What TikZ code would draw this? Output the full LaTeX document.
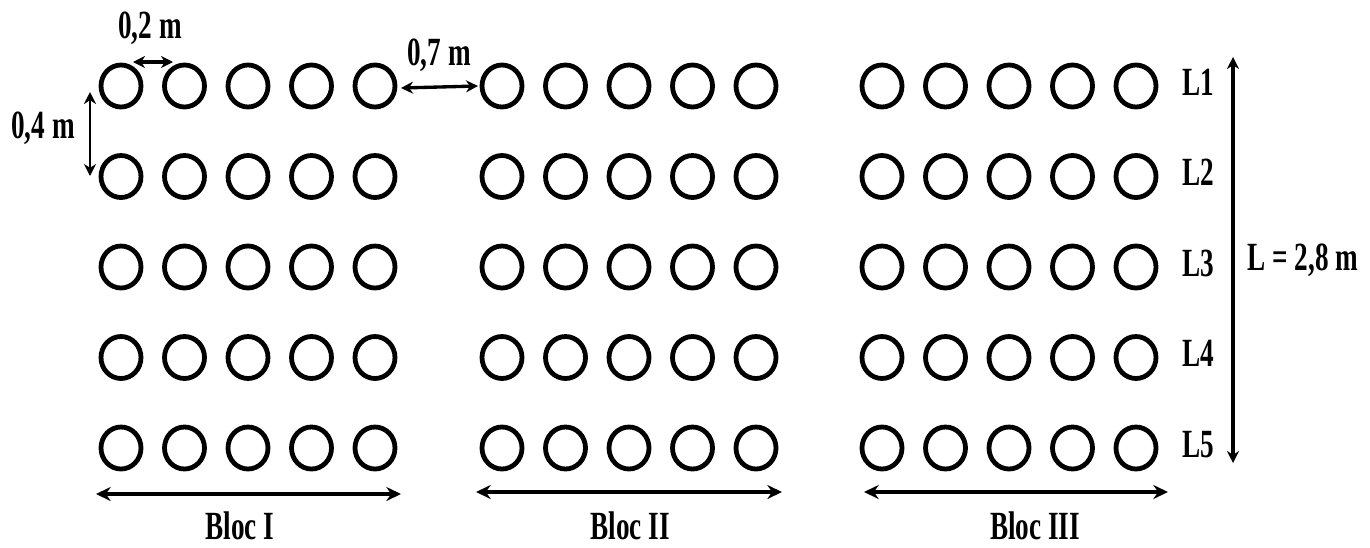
\documentclass[tikz,border=0pt]{standalone}
\usepackage{fontspec}
\setmainfont{Liberation Serif}[FakeStretch=0.68]
\usetikzlibrary{shapes.geometric,arrows.meta}
\begin{document}
\begin{tikzpicture}[x=0.75pt,y=-0.75pt,
  hole/.style={draw,ellipse,line width=3.6pt,minimum width=30pt,minimum height=31.5pt,inner sep=0pt},
  lbl/.style={font=\bfseries\fontsize{30}{34}\selectfont,inner sep=0pt},
  dim/.style={line width=2.5pt,{Stealth[length=9pt,width=9pt]}-{Stealth[length=9pt,width=9pt]}},
  bigdim/.style={line width=3.2pt,{Stealth[length=11pt,width=10.5pt]}-{Stealth[length=11pt,width=10.5pt]}}]
\useasboundingbox (0,0) rectangle (1370,547);
% holes
\foreach \b/\s in {1/121,2/502,3/882}{
  \foreach \c in {1,...,5}{
    \foreach \r in {1,...,5}{
      \node[hole] (h\b\r\c) at ({\s+(\c-1)*63.5},{86+(\r-1)*90.5}) {};
    }
  }
}
% row labels
\foreach \r in {1,...,5}{
  \node[lbl,anchor=base] (L\r) at (1198,{95+(\r-1)*90.5}) {L\r};
}
% 0,2 m
\coordinate (a1) at (133,62);
\coordinate (a2) at (173,62);
\draw[dim] (a1) -- (a2);
\node[lbl,anchor=base] (t02) at (150,38) {0,2 m};
% 0,7 m
\coordinate (b1) at (401,88);
\coordinate (b2) at (478,86);
\draw[dim] (b1) -- (b2);
\node[lbl,anchor=base] (t07) at (439,65) {0,7 m};
% 0,4 m
\coordinate (c1) at (90,92);
\coordinate (c2) at (90,176);
\draw[dim,line width=2pt] (c1) -- (c2);
\node[lbl,anchor=base] (t04) at (43,138) {0,4 m};
% L = 2,8 m
\coordinate (d1) at (1233,57);
\coordinate (d2) at (1233,463);
\draw[dim] (d1) -- (d2);
\node[lbl,anchor=base] (tL) at (1303,270) {L = 2,8 m};
% blocs
\coordinate (e1) at (96,494);
\coordinate (e2) at (401,494);
\draw[bigdim] (e1) -- (e2);
\node[lbl,anchor=base] (B1) at (240,539) {Bloc I};
\coordinate (f1) at (476,492);
\coordinate (f2) at (782,492);
\draw[bigdim] (f1) -- (f2);
\node[lbl,anchor=base] (B2) at (630,539) {Bloc II};
\coordinate (g1) at (864,492);
\coordinate (g2) at (1168,492);
\draw[bigdim] (g1) -- (g2);
\node[lbl,anchor=base] (B3) at (1035,539) {Bloc III};
\end{tikzpicture}
\end{document}
